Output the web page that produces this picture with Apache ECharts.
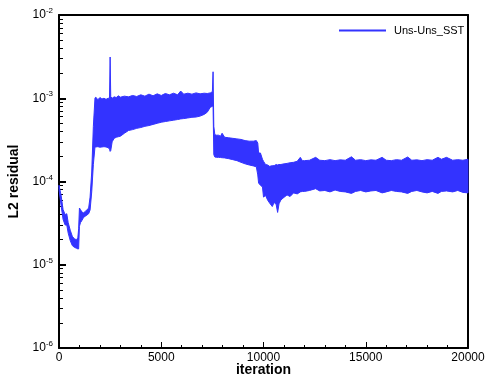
<!DOCTYPE html>
<html>
<head>
<meta charset="utf-8">
<script src="https://cdn.jsdelivr.net/npm/echarts@6/dist/echarts.min.js"></script>
<style>
html,body{margin:0;padding:0;background:#fff;}
#chart{width:488px;height:379px;}
</style>
</head>
<body>
<div id="chart"></div>
<script>
// Iteration samples along the residual history
const iterations = [
  0, 100, 200, 300, 380, 450, 550, 650, 750, 850, 920, 960, 1000, 1050, 1120, 1200, 1300, 1450, 1520, 1600, 1680, 1760,
  1800, 1900, 2000, 2100, 2200, 2300, 2400, 2470, 2500, 2530, 2600, 2700, 2800, 2900, 3000, 3200, 3400, 3600, 3800,
  4000, 4200, 4400, 4600, 4800, 5000, 5200, 5400, 5600, 5800, 5950, 6100, 6300, 6500, 6700, 6900, 7100, 7250, 7400, 7500, 7534,
  7570, 7620, 7700, 7800, 7900, 7975, 8100, 8300, 8500, 8700, 8900, 9100, 9300, 9500, 9650,
  9720, 9760, 9850, 9950, 10000, 10100, 10200, 10300, 10430, 10520, 10620, 10690, 10760, 10850, 10950, 11150, 11300, 11470, 11650, 11800, 11900,
  12000, 12250, 12550, 12750, 13000, 13250, 13500, 13750, 14000, 14300, 14500, 14750, 15000, 15250, 15500, 15800, 16000,
  16250, 16500, 16750, 17050, 17250, 17500, 17750, 18000, 18250, 18530, 18700, 18950, 19250, 19500, 19750, 20000
];
// Upper envelope of the oscillating L2 residual
const residualUpper = [
  9.0e-5, 6.9e-5, 4.6e-5, 4.0e-5, 4.1e-5, 3.2e-5, 2.6e-5, 2.2e-5, 2.05e-5, 2.0e-5, 2.1e-5, 2.7e-5, 4.8e-5, 4.6e-5, 4.3e-5, 4.2e-5, 4.4e-5, 4.8e-5, 6.5e-5, 1.3e-4, 4.6e-4, 1.01e-3,
  1.03e-3, 9.6e-4, 1.02e-3, 9.8e-4, 1.0e-3, 9.7e-4, 1.0e-3, 1.0e-3, 3.13e-3, 1.05e-3, 1.0e-3, 1.04e-3, 1.02e-3, 1.07e-3, 1.03e-3, 1.06e-3, 1.04e-3, 1.08e-3, 1.05e-3,
  1.1e-3, 1.06e-3, 1.12e-3, 1.07e-3, 1.13e-3, 1.08e-3, 1.14e-3, 1.1e-3, 1.15e-3, 1.1e-3, 1.22e-3, 1.12e-3, 1.15e-3, 1.12e-3, 1.16e-3, 1.13e-3, 1.15e-3, 1.14e-3, 1.16e-3, 1.2e-3, 2.08e-3,
  4.6e-4, 3.65e-4, 3.6e-4, 3.6e-4, 3.5e-4, 3.8e-4, 3.4e-4, 3.35e-4, 3.3e-4, 3.25e-4, 3.2e-4, 3.1e-4, 3.05e-4, 3.05e-4, 3.1e-4,
  2.9e-4, 2.2e-4, 2.2e-4, 1.85e-4, 1.75e-4, 1.6e-4, 1.58e-4, 1.52e-4, 1.55e-4, 1.55e-4, 1.6e-4, 1.58e-4, 1.6e-4, 1.6e-4, 1.62e-4, 1.65e-4, 1.68e-4, 1.7e-4, 1.75e-4, 1.95e-4, 1.78e-4,
  1.78e-4, 1.8e-4, 1.95e-4, 1.8e-4, 1.78e-4, 1.83e-4, 1.78e-4, 1.82e-4, 1.8e-4, 1.98e-4, 1.8e-4, 1.83e-4, 1.78e-4, 1.82e-4, 1.8e-4, 1.95e-4, 1.8e-4,
  1.78e-4, 1.83e-4, 1.8e-4, 1.97e-4, 1.8e-4, 1.82e-4, 1.78e-4, 1.83e-4, 1.8e-4, 1.95e-4, 1.85e-4, 1.95e-4, 1.8e-4, 1.83e-4, 1.8e-4, 1.85e-4
];
// Lower envelope of the oscillating L2 residual
const residualLower = [
  8.0e-5, 5.2e-5, 3.5e-5, 3.0e-5, 3.0e-5, 2.4e-5, 1.95e-5, 1.7e-5, 1.62e-5, 1.58e-5, 1.55e-5, 1.55e-5, 2.9e-5, 3.2e-5, 3.4e-5, 3.7e-5, 3.85e-5, 4.1e-5, 4.55e-5, 7.5e-5, 1.6e-4, 2.6e-4,
  2.6e-4, 2.62e-4, 2.58e-4, 2.6e-4, 2.62e-4, 2.6e-4, 2.55e-4, 2.45e-4, 2.3e-4, 2.35e-4, 3.0e-4, 3.3e-4, 3.4e-4, 3.45e-4, 3.5e-4, 3.8e-4, 4.1e-4, 4.2e-4, 4.35e-4,
  4.45e-4, 4.6e-4, 4.7e-4, 4.85e-4, 5.0e-4, 5.15e-4, 5.25e-4, 5.35e-4, 5.45e-4, 5.55e-4, 5.65e-4, 5.7e-4, 5.8e-4, 5.9e-4, 5.95e-4, 6.1e-4, 6.4e-4, 6.8e-4, 7.8e-4, 8.0e-4, 8.0e-4,
  2.1e-4, 1.97e-4, 1.95e-4, 1.95e-4, 1.94e-4, 1.93e-4, 1.92e-4, 1.88e-4, 1.83e-4, 1.78e-4, 1.7e-4, 1.63e-4, 1.58e-4, 1.54e-4, 1.5e-4,
  1.2e-4, 9.6e-5, 9.0e-5, 8.6e-5, 6.5e-5, 6.8e-5, 6.0e-5, 5.5e-5, 5.0e-5, 5.6e-5, 5.3e-5, 4.25e-5, 5.4e-5, 6.0e-5, 6.3e-5, 6.9e-5, 6.6e-5, 7.3e-5, 7.1e-5, 7.5e-5, 7.6e-5,
  7.6e-5, 7.8e-5, 8.2e-5, 7.7e-5, 7.8e-5, 7.5e-5, 7.9e-5, 7.6e-5, 7.5e-5, 7.2e-5, 7.6e-5, 7.8e-5, 7.5e-5, 7.7e-5, 7.8e-5, 7.3e-5, 7.5e-5,
  7.8e-5, 7.6e-5, 7.5e-5, 7.2e-5, 7.6e-5, 7.8e-5, 7.5e-5, 7.3e-5, 7.6e-5, 7.2e-5, 7.6e-5, 7.7e-5, 7.5e-5, 7.8e-5, 7.4e-5, 7.3e-5
];
const yMinorTicks = [
  2e-6,3e-6,4e-6,5e-6,6e-6,7e-6,8e-6,9e-6,
  2e-5,3e-5,4e-5,5e-5,6e-5,7e-5,8e-5,9e-5,
  2e-4,3e-4,4e-4,5e-4,6e-4,7e-4,8e-4,9e-4,
  2e-3,3e-3,4e-3,5e-3,6e-3,7e-3,8e-3,9e-3
];
const seriesName = 'Uns-Uns_SST';
const xAxisName = 'iteration';
const yAxisName = 'L2 residual';

const BLUE = '#3333ff';
const FONT = '"Liberation Sans", Arial, Helvetica, sans-serif';

// one data row per sample: [iteration, lower, upper]
const bandData = iterations.map((x, i) => [x, residualLower[i], residualUpper[i]]);

function renderBand(params, api) {
  if (params.dataIndexInside !== 0) return null;
  const pts = [];
  for (let i = 0; i < iterations.length; i++) pts.push(api.coord([iterations[i], residualUpper[i]]));
  for (let i = iterations.length - 1; i >= 0; i--) pts.push(api.coord([iterations[i], residualLower[i]]));
  return {
    type: 'polygon',
    shape: {points: pts},
    style: {fill: BLUE, stroke: BLUE, lineWidth: 1}
  };
}

const chart = echarts.init(document.getElementById('chart'));
chart.setOption({
  animation: false,
  grid: {left: 59, right: 20, top: 15, bottom: 31, outerBoundsMode: 'none'},
  legend: {
    data: [{name: seriesName, itemStyle: {color: BLUE}}],
    left: 339, top: 25, padding: 0,
    icon: 'rect', itemWidth: 47, itemHeight: 2,
    textStyle: {fontFamily: FONT, fontSize: 11, color: '#000', padding: [0, 0, 0, 3]}
  },
  xAxis: [{
    type: 'value', min: 0, max: 20000, interval: 5000,
    name: xAxisName, nameLocation: 'middle', nameGap: 15, nameMoveOverlap: false,
    nameTextStyle: {fontFamily: FONT, fontSize: 14, fontWeight: 'bold', color: '#000'},
    axisLine: {show: true, onZero: false, lineStyle: {color: '#000', width: 2}},
    axisTick: {show: true, inside: true, length: 6, lineStyle: {color: '#000', width: 1}},
    minorTick: {show: true, splitNumber: 5, length: 3, lineStyle: {color: '#000', width: 1}},
    axisLabel: {fontFamily: FONT, fontSize: 12, color: '#000', margin: 4, formatter: v => String(v)},
    splitLine: {show: false}
  }, {
    type: 'value', min: 0, max: 20000, position: 'top',
    axisLine: {show: true, onZero: false, lineStyle: {color: '#000', width: 2}},
    axisTick: {show: false}, axisLabel: {show: false}, splitLine: {show: false}
  }],
  yAxis: [{
    type: 'log', logBase: 10, min: 1e-6, max: 1e-2,
    name: yAxisName, nameLocation: 'middle', nameGap: 38, nameMoveOverlap: false,
    nameTextStyle: {fontFamily: FONT, fontSize: 14, fontWeight: 'bold', color: '#000'},
    axisLine: {show: true, onZero: false, lineStyle: {color: '#000', width: 2}},
    axisTick: {show: true, inside: true, length: 7, lineStyle: {color: '#000', width: 2}},
    axisLabel: {
      margin: 6, color: '#000',
      formatter: function (v) {
        const e = Math.round(Math.log10(v));
        return '{b|10}{s|' + e + '}';
      },
      rich: {
        b: {fontFamily: FONT, fontSize: 12, color: '#000'},
        s: {fontFamily: FONT, fontSize: 8, color: '#000', verticalAlign: 'top', padding: [0, 0, 8, 0]}
      }
    },
    splitLine: {show: false}
  }, {
    type: 'log', logBase: 10, min: 1e-6, max: 1e-2, position: 'left',
    axisLine: {show: false},
    axisTick: {show: true, inside: true, length: 4, customValues: yMinorTicks, lineStyle: {color: '#000', width: 1}},
    axisLabel: {show: false},
    splitLine: {show: false}
  }, {
    type: 'log', logBase: 10, min: 1e-6, max: 1e-2, position: 'right',
    axisLine: {show: true, onZero: false, lineStyle: {color: '#000', width: 2}},
    axisTick: {show: false}, axisLabel: {show: false}, splitLine: {show: false}
  }],
  series: [{
    name: seriesName, type: 'custom', data: bandData,
    xAxisIndex: 0, yAxisIndex: 0,
    encode: {x: 0, y: [1, 2]},
    renderItem: renderBand,
    itemStyle: {color: BLUE}
  }]
});
</script>
</body>
</html>
